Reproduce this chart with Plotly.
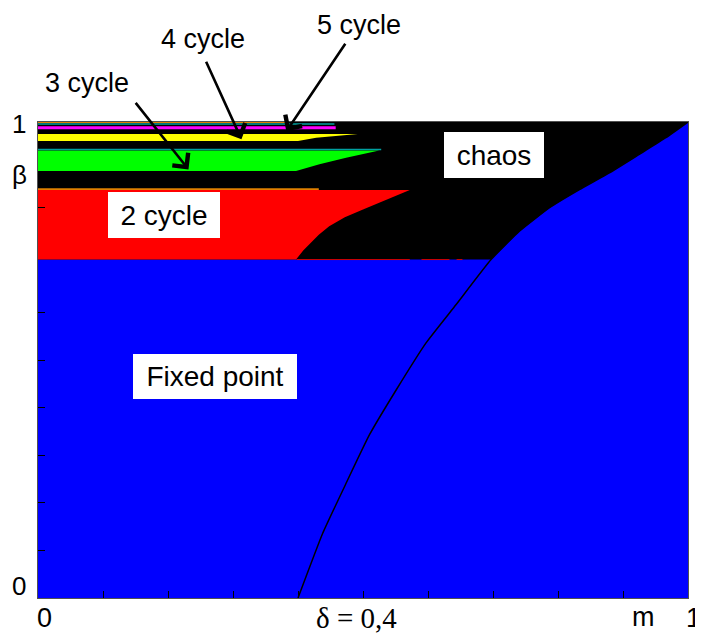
import plotly.graph_objects as go

# ---- data ----
# boundary between chaos / fixed point (thin black curve)
boundary_m    = [0.400, 0.438, 0.474, 0.510, 0.551, 0.597, 0.643, 0.697, 0.741, 0.787, 0.833, 0.879, 0.925, 0.966, 1.000]
boundary_beta = [0.000, 0.136, 0.241, 0.343, 0.437, 0.536, 0.616, 0.711, 0.771, 0.820, 0.858, 0.893, 0.932, 0.967, 1.000]

fixed_top = 0.711          # top of the fixed-point region on the left

# 2 cycle (red) region
red_bottom = 0.711
red_top = 0.857
red_edge_m    = [0.397, 0.408, 0.420, 0.432, 0.448, 0.472, 0.500, 0.535, 0.572]
red_edge_beta = [0.711, 0.730, 0.746, 0.763, 0.781, 0.800, 0.816, 0.836, 0.857]
orange_mid_beta = 0.859
orange_mid_end = 0.432

# 3 cycle (green) region
green_bottom = 0.897
green_top = 0.940
green_edge_m    = [0.397, 0.433, 0.474, 0.525]
green_edge_beta = [0.897, 0.911, 0.925, 0.940]
teal_mid_beta = 0.942
teal_mid_end = 0.528

# 4 cycle (yellow) region
yellow_bottom = 0.960
yellow_top = 0.975
yellow_edge_m    = [0.400, 0.428, 0.479, 0.492]
yellow_edge_beta = [0.960, 0.967, 0.973, 0.975]

# 5 cycle (magenta) band and thin top lines
magenta_band = [0.985, 0.991]
magenta_end = 0.458
teal_top_beta = 0.996
teal_top_end = 0.456
orange_top_beta = 0.9995
orange_top_end = 0.382

# thin red traces along the chaos bottom
red_trace_m    = [0.398, 0.572, None, 0.590, 0.633, None, 0.644, 0.653]
red_trace_beta = [0.711, 0.711, None, 0.711, 0.711, None, 0.711, 0.711]

x_ticks = [0.1, 0.2, 0.3, 0.4, 0.5, 0.6, 0.7, 0.8, 0.9]
y_ticks = [0.1, 0.2, 0.3, 0.4, 0.5, 0.6, 0.82]

BLUE = "#0000FF"
RED = "#FF0000"
GREEN = "#00FF00"
YELLOW = "#FFFF00"
MAGENTA = "#FF00FF"
TEAL = "#00A0A0"
ORANGE = "#E08000"

fig = go.Figure()

def poly(xs, ys, color):
    fig.add_trace(go.Scatter(x=xs, y=ys, fill="toself", fillcolor=color, mode="lines",
                             line=dict(width=0, color=color), hoverinfo="skip", showlegend=False))

def hline(y, x0, x1, color, w):
    fig.add_trace(go.Scatter(x=[x0, x1], y=[y, y], mode="lines", line=dict(color=color, width=w),
                             hoverinfo="skip", showlegend=False))

# fixed point region (whole square, blue)
poly([0, 1, 1, 0, 0], [0, 0, 1, 1, 0], BLUE)

# chaos region (black)
upper = [(m, b) for m, b in zip(boundary_m, boundary_beta) if b >= fixed_top]
ch_x = [0, 0] + [m for m, b in reversed(upper)] + [0]
ch_y = [fixed_top, 1] + [b for m, b in reversed(upper)] + [fixed_top]
poly(ch_x, ch_y, "#000000")

# 2 cycle
poly([0] + red_edge_m + [0, 0], [red_bottom] + red_edge_beta + [red_top, red_bottom], RED)
hline(orange_mid_beta, 0, orange_mid_end, ORANGE, 1.8)

# 3 cycle
poly([0] + green_edge_m + [0, 0], [green_bottom] + green_edge_beta + [green_top, green_bottom], GREEN)
hline(teal_mid_beta, 0, teal_mid_end, TEAL, 1.5)

# 4 cycle
poly([0] + yellow_edge_m + [0, 0], [yellow_bottom] + yellow_edge_beta + [yellow_top, yellow_bottom], YELLOW)

# 5 cycle and others
poly([0, magenta_end, magenta_end, 0, 0],
     [magenta_band[0], magenta_band[0], magenta_band[1], magenta_band[1], magenta_band[0]], MAGENTA)
hline(teal_top_beta, 0, teal_top_end, TEAL, 1.5)
hline(orange_top_beta, 0, orange_top_end, ORANGE, 1.5)

fig.add_trace(go.Scatter(x=red_trace_m, y=red_trace_beta, mode="lines",
                         line=dict(color="#D00000", width=1), hoverinfo="skip", showlegend=False))

# boundary curve
fig.add_trace(go.Scatter(x=boundary_m, y=boundary_beta, mode="lines",
                         line=dict(color="#000000", width=1.5, shape="spline", smoothing=0.4),
                         hoverinfo="skip", showlegend=False))

SANS = "Liberation Sans, Arial, sans-serif"
SERIF = "Liberation Serif, Times New Roman, serif"

annotations = []
def box(text, x, y, w, h):
    annotations.append(dict(text=text, x=x, y=y, xref="paper", yref="paper", showarrow=False,
                            bgcolor="white", width=w, height=h, borderpad=0, borderwidth=0,
                            font=dict(family=SANS, size=28, color="black"),
                            xanchor="center", yanchor="middle"))

box("2 cycle", 0.194, 0.804, 112, 46)
box("chaos", 0.701, 0.931, 100, 46)
box("Fixed point", 0.273, 0.465, 164, 45)

def label(text, x, y, size=27, family=SANS):
    annotations.append(dict(text=text, x=x, y=y, xref="paper", yref="paper", showarrow=False,
                            font=dict(family=family, size=size, color="black"),
                            xanchor="center", yanchor="middle"))

label("3 cycle", 0.076, 1.082)
label("4 cycle", 0.2546, 1.174)
label("5 cycle", 0.4946, 1.204)

# axis labels
label("1", -0.0285, 0.996, 26)
label("β", -0.0285, 0.888, 26)
label("0", -0.0285, 0.025, 26)
label("0", 0.010, -0.043, 27)
label("δ = 0,4", 0.490, -0.043, 29, SERIF)
label("m", 0.932, -0.040, 27)
label("1", 1.0085, -0.043, 27)

def arrow(x, y, ax, ay):
    annotations.append(dict(text="", x=x, y=y, xref="x", yref="y", ax=ax, ay=ay,
                            axref="pixel", ayref="pixel", showarrow=True,
                            arrowhead=4, arrowsize=1.5, arrowwidth=2.6, arrowcolor="black"))

arrow(0.2315, 0.9004, -54, -68)
arrow(0.313, 0.9636, -36, -79)
arrow(0.382, 0.9804, 60, -89)

fig.update_layout(
    width=703, height=635,
    margin=dict(l=30, r=23, t=114, b=45),
    paper_bgcolor="white", plot_bgcolor="white",
    showlegend=False,
    annotations=annotations,
    xaxis=dict(range=[0, 1], showgrid=False, zeroline=False, tickvals=x_ticks,
               showticklabels=False, ticks="inside", ticklen=7, tickcolor="black",
               showline=True, linecolor="#505050", linewidth=1, mirror=True),
    yaxis=dict(range=[0, 1], showgrid=False, zeroline=False, tickvals=y_ticks,
               showticklabels=False, ticks="inside", ticklen=7, tickcolor="black",
               showline=True, linecolor="#505050", linewidth=1, mirror=True),
)

fig.write_html("out.html")
